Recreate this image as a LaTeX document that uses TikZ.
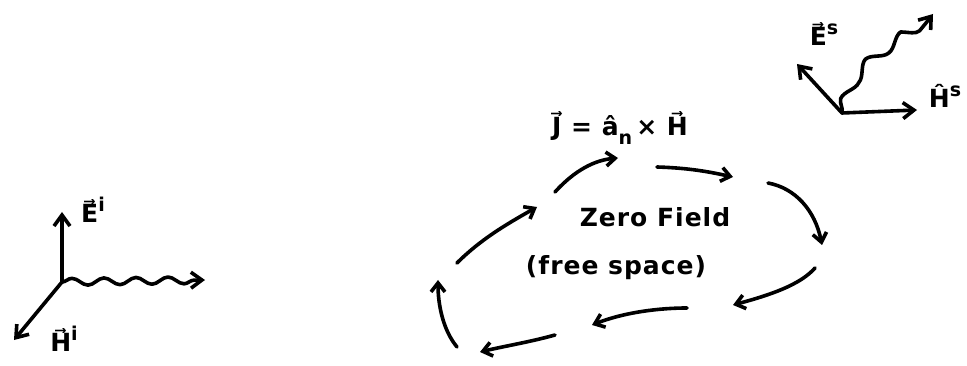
\documentclass[tikz,border=0pt]{standalone}
\usepackage{fontspec}
\setmainfont{DejaVu Sans}[LetterSpace=4]
\usetikzlibrary{arrows.meta,decorations.pathmorphing}
\newcommand{\supr}[1]{\raisebox{0.45em}{\fontsize{19}{22}\selectfont #1}}
\newcommand{\subr}[1]{\raisebox{-0.35em}{\fontsize{19}{22}\selectfont #1}}
\begin{document}
\begin{tikzpicture}[x=1pt,y=-1pt,
  stroke/.style={line width=3.6pt,line cap=round,line join=round},
  vecarrow/.style={stroke,-{Straight Barb[length=11pt,width=16pt,line width=3.6pt]}},
  circ/.style={stroke,-{Straight Barb[length=9pt,width=14pt,line width=3.6pt]}},
  wavy/.style={vecarrow,decorate,decoration={snake,amplitude=3.5pt,segment length=32pt,post length=10pt}},
  wavyb/.style={vecarrow,decorate,decoration={snake,amplitude=5pt,segment length=44pt,post length=12pt}},
  lbl/.style={font=\fontsize{25}{29}\selectfont\bfseries,inner sep=0pt}]
\useasboundingbox (0,0) rectangle (967,366);
% incident wave
\coordinate (oi) at (62,282);
\coordinate (ei) at (62,212);
\coordinate (hi) at (14,340);
\coordinate (ki) at (205,280);
\draw[vecarrow] (oi) -- (ei);
\draw[vecarrow] (oi) -- (hi);
\draw[wavy] (oi) -- (ki);
\node[lbl] (Ei) at (93,210) {E⃗\supr{i}};
\node[lbl] (Hi) at (64,339) {H⃗\supr{i}};
% scattered wave
\coordinate (os) at (842,113);
\coordinate (es) at (797,64);
\coordinate (hs) at (917,110);
\coordinate (ks) at (933,14);
\draw[vecarrow] (os) -- (es);
\draw[vecarrow] (os) -- (hs);
\draw[wavyb] (os) to[out=75,in=235] (ks);
\node[lbl] (Es) at (824,34) {E⃗\supr{s}};
\node[lbl] (Hs) at (945,96) {Ĥ\supr{s}};
% current equation and region
\node[lbl] (J) at (620,128) {J⃗ = â\subr{n}\,× H⃗};
\node[lbl] (zf) at (655,217) {Zero Field};
\node[lbl] (fs) at (616,268) {(free space)};
% circulating current arrows
\draw[circ] (555,192) .. controls (575,170) and (595,160) .. (618,158);
\draw[circ] (657,167) .. controls (690,168) and (710,172) .. (733,177);
\draw[circ] (768,183) .. controls (795,188) and (815,210) .. (822,245);
\draw[circ] (815,268) .. controls (800,285) and (770,295) .. (733,305);
\draw[circ] (687,308) .. controls (660,308) and (625,312) .. (592,325);
\draw[circ] (555,335) .. controls (530,342) and (505,346) .. (480,352);
\draw[circ] (457,347) .. controls (443,330) and (438,305) .. (438,280);
\draw[circ] (457,263) .. controls (480,240) and (505,225) .. (537,207);
\end{tikzpicture}
\end{document}
